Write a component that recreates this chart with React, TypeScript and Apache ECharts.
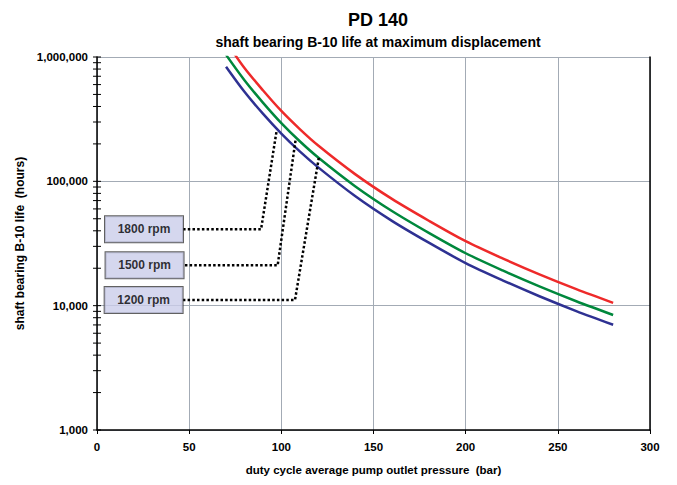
import React, { useEffect, useRef } from "react";
import * as echarts from "echarts";

const PRESSURE = [70, 80, 90, 100, 110, 120, 140, 160, 180, 200, 220, 240, 260, 280];
const LIFE_1800 = [835000, 525000, 350000, 242000, 174000, 129500, 76200, 48100, 32100, 22000, 16000, 11900, 9050, 7020];
const LIFE_1500 = [1040000, 650000, 430000, 294000, 210000, 155400, 91400, 57700, 38500, 26400, 19200, 14300, 10860, 8420];
const LIFE_1200 = [1330000, 815000, 540000, 368000, 263000, 194000, 114300, 72200, 48200, 33000, 24000, 17850, 13580, 10530];

const LEADER_1800 = [[46.7, 41100], [89.0, 41100], [97.5, 258600]];
const LEADER_1500 = [[47.7, 21100], [98.0, 21100], [107.8, 218900]];
const LEADER_1200 = [[46.6, 11090], [107.4, 11090], [120.5, 160000]];

const RPM_LABELS = ["1800 rpm", "1500 rpm", "1200 rpm"];
const LABEL_X = [25.5, 25.8, 25.3];
const LABEL_Y = [41100, 21100, 11090];

const X_TICKS = [0, 50, 100, 150, 200, 250, 300];
const Y_TICKS = [
  1000, 2000, 3000, 4000, 5000, 6000, 7000, 8000, 9000,
  10000, 20000, 30000, 40000, 50000, 60000, 70000, 80000, 90000,
  100000, 200000, 300000, 400000, 500000, 600000, 700000, 800000, 900000,
  1000000,
];

const RED = "#ee2a2a";
const GREEN = "#00883c";
const BLUE = "#2e3192";
const FONT = "Liberation Sans, Arial, sans-serif";

export default function App() {
  const ref = useRef<HTMLDivElement>(null);
  useEffect(() => {
    if (!ref.current) return;
    const chart = echarts.init(ref.current, undefined, { renderer: "svg" });
    const zip = (xs: number[], ys: number[]) => xs.map((x, i) => [x, ys[i]]);
    const curve = (name: string, data: number[], color: string) => ({
      name,
      type: "line",
      data: zip(PRESSURE, data),
      showSymbol: false,
      smooth: 0.3,
      lineStyle: { color, width: 2.5 },
      clip: true,
      z: 3,
    });
    const leader = (data: number[][]) => ({
      type: "line",
      data,
      showSymbol: false,
      lineStyle: { color: "#000", width: 2.5, type: [2.5, 2.2] },
      z: 4,
    });
    chart.setOption({
      animation: false,
      backgroundColor: "#fff",
      textStyle: { fontFamily: FONT },
      title: [
        {
          text: "PD 140",
          left: 373,
          top: 6,
          textAlign: "center",
          textStyle: { fontFamily: FONT, fontSize: 18, fontWeight: "bold", color: "#000" },
        },
        {
          text: "shaft bearing B-10 life at maximum displacement",
          left: 373,
          top: 30,
          textAlign: "center",
          textStyle: { fontFamily: FONT, fontSize: 14, fontWeight: "bold", color: "#000" },
        },
      ],
      grid: { left: 97, right: 27, top: 57, bottom: 55, containLabel: false },
      xAxis: {
        type: "value",
        min: 0,
        max: 300,
        interval: 50,
        name: "duty cycle average pump outlet pressure  (bar)",
        nameLocation: "middle",
        nameGap: 34,
        nameTextStyle: { fontFamily: FONT, fontSize: 11.5, fontWeight: "bold", color: "#000" },
        axisLine: { show: true, onZero: false, lineStyle: { color: "#000", width: 1.5 } },
        axisTick: { show: true, inside: false, length: 4, lineStyle: { color: "#000" } },
        axisLabel: {
          margin: 11,
          fontFamily: FONT,
          fontSize: 11.5,
          fontWeight: "bold",
          color: "#000",
          formatter: (v: number) => (X_TICKS.includes(v) ? String(v) : ""),
        },
        splitLine: { show: true, lineStyle: { color: "#a3abb5", width: 1 } },
      },
      yAxis: [
        {
          type: "log",
          logBase: 10,
          min: 1000,
          max: 1000000,
          name: "shaft bearing B-10 life  (hours)",
          nameLocation: "middle",
          nameGap: 70,
          nameTextStyle: { fontFamily: FONT, fontSize: 12, fontWeight: "bold", color: "#000" },
          axisLine: { show: true, lineStyle: { color: "#000", width: 1.5 } },
          axisTick: { show: false },
          axisLabel: {
            margin: 9,
            fontFamily: FONT,
            fontSize: 11.5,
            fontWeight: "bold",
            color: "#000",
            formatter: (v: number) => Math.round(v).toLocaleString("en-US"),
          },
          splitLine: { show: true, lineStyle: { color: "#a3abb5", width: 1 } },
        },
        {
          type: "log",
          logBase: 10,
          min: 1000,
          max: 1000000,
          position: "right",
          axisLine: { show: true, lineStyle: { color: "#000", width: 1.5 } },
          axisTick: { show: false },
          axisLabel: { show: false },
          splitLine: { show: false },
        },
      ],
      series: [
        curve("1200 rpm", LIFE_1200, RED),
        curve("1500 rpm", LIFE_1500, GREEN),
        curve("1800 rpm", LIFE_1800, BLUE),
        leader(LEADER_1800),
        leader(LEADER_1500),
        leader(LEADER_1200),
        {
          type: "custom",
          coordinateSystem: "cartesian2d",
          data: Y_TICKS.map((v) => [0, v]),
          clip: false,
          z: 5,
          renderItem: (_params: any, api: any) => {
            const p = api.coord([0, api.value(1)]);
            return {
              type: "line",
              shape: { x1: p[0] - 4, y1: p[1], x2: p[0] + 4, y2: p[1] },
              style: { stroke: "#000", lineWidth: 1 },
            };
          },
        },
        {
          type: "scatter",
          data: RPM_LABELS.map((n, i) => ({ name: n, value: [LABEL_X[i], LABEL_Y[i]] })),
          symbol: "rect",
          symbolSize: 1,
          itemStyle: { color: "rgba(0,0,0,0)" },
          z: 6,
          label: {
            show: true,
            position: "inside",
            formatter: (p: any) => p.name,
            fontFamily: FONT,
            fontSize: 12,
            fontWeight: "bold",
            color: "#000",
            backgroundColor: "#cacdea",
            borderColor: "#3a3a3a",
            borderWidth: 1,
            width: 78,
            height: 26,
            lineHeight: 26,
            align: "center",
            verticalAlign: "middle",
          },
        },
      ],
    });
    return () => chart.dispose();
  }, []);
  return (
    <div
      ref={ref}
      style={{ position: "absolute", left: 0, top: 0, width: 677, height: 485 }}
    />
  );
}
